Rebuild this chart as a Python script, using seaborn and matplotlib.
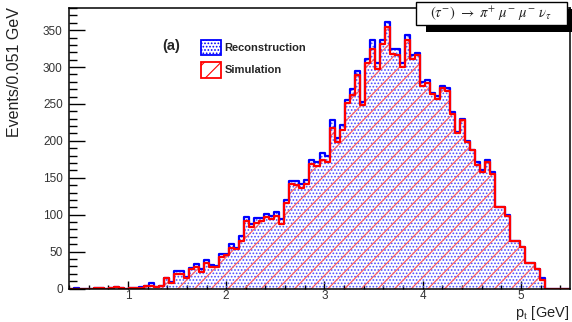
import numpy as np
import pandas as pd
import matplotlib
matplotlib.use("Agg")
import matplotlib.pyplot as plt
from matplotlib.patches import Patch, Rectangle
from matplotlib.ticker import MultipleLocator
import seaborn as sns

# ---- data ----
bin_lo = 0.4
bin_width = 0.051
n_bins = 100

reconstruction = [
    0, 1, 0, 0, 0, 1, 1, 0, 1, 2, 1, 0, 1, 1, 2, 4, 8, 2, 3,
    14, 9, 24, 24, 15, 28, 33, 26, 38, 32, 30, 47,
    47, 60, 55, 71, 97, 87, 96, 95, 101, 98, 103, 94, 120, 146, 146, 141, 147, 174, 171, 184, 180,
    228, 204, 222, 255, 270, 294, 252, 311, 337, 305, 337, 361, 324, 324, 306, 344, 316, 319,
    280, 282, 265, 261, 275, 272, 239, 212, 229,
    200, 188, 172, 160, 174, 158, 111, 110, 100, 65, 64, 56, 34, 34, 26, 14, 0, 0, 0, 0, 0,
]
simulation = [
    0, 0, 0, 0, 0, 1, 1, 0, 1, 2, 1, 0, 1, 1, 1, 4, 4, 2, 3,
    14, 7, 20, 20, 14, 26, 29, 23, 34, 29, 29, 42,
    45, 55, 53, 65, 92, 83, 89, 92, 97, 94, 98, 88, 116, 141, 140, 136, 141, 169, 166, 174, 172,
    217, 198, 215, 251, 262, 289, 249, 305, 325, 297, 331, 354, 318, 316, 300, 337, 311, 316,
    275, 279, 263, 257, 271, 267, 237, 210, 228,
    199, 187, 167, 158, 172, 155, 111, 110, 98, 65, 64, 56, 34, 34, 26, 11, 0, 0, 0, 0, 0,
]
series_labels = ["Reconstruction", "Simulation"]
x_ticks = [1, 2, 3, 4, 5]
y_ticks = [0, 50, 100, 150, 200, 250, 300, 350]

edges = [bin_lo + bin_width * i for i in range(n_bins + 1)]
centers = [0.5 * (edges[i] + edges[i + 1]) for i in range(n_bins)]
df_reco = pd.DataFrame({"pt": centers, "n": reconstruction})
df_sim = pd.DataFrame({"pt": centers, "n": simulation})

sns.set_style("white")
plt.rcParams["font.family"] = ["Liberation Sans", "DejaVu Sans"]
plt.rcParams["hatch.linewidth"] = 0.8
plt.rcParams["mathtext.fontset"] = "stix"

fig = plt.figure(figsize=(5.72, 3.22), dpi=100)
ax = fig.add_axes([69 / 572, 1 - 288.5 / 322, (570 - 69) / 572, (288.5 - 8) / 322])

BLUE = "#0000ff"
RED = "#ff0000"
styles = [
    (df_reco, BLUE, "#4a4aff", "....."),
    (df_sim, RED, "#ff5a5a", "//"),
]

# fills with patterns
for d, lc, hc, hatch in styles:
    sns.histplot(data=d, x="pt", weights="n", bins=edges, element="step", fill=True, ax=ax)
    coll = ax.collections[-1]
    coll.set_alpha(None)
    coll.set_facecolor("none")
    coll.set_edgecolor(hc)
    coll.set_linewidth(0)
    coll.set_hatch(hatch)

# outlines
for d, lc, hc, hatch in styles:
    sns.histplot(data=d, x="pt", weights="n", bins=edges, element="step", fill=False,
                 color=lc, linewidth=1.6, ax=ax)

ax.set_xlim(edges[0], edges[-1])
ax.set_ylim(0, 380)
ax.set_xlabel("")
ax.set_ylabel("")
ax.set_xticks(x_ticks)
ax.set_yticks(y_ticks)
ax.xaxis.set_minor_locator(MultipleLocator(0.2))
ax.yaxis.set_minor_locator(MultipleLocator(10))
ax.tick_params(axis="both", which="both", direction="in", color="black", width=1.0,
               labelcolor="#333333", labelsize=8.5, top=False, right=False,
               left=True, bottom=True)
ax.tick_params(axis="y", which="major", length=11.5, pad=4.5)
ax.tick_params(axis="y", which="minor", length=5.8)
ax.tick_params(axis="x", which="major", length=5.8, pad=1.2)
ax.tick_params(axis="x", which="minor", length=3.0)
for s in ax.spines.values():
    s.set_color("black")
    s.set_linewidth(1.1)
    s.set_visible(True)

# legend
handles = [
    Patch(facecolor="white", edgecolor=BLUE, hatch=".....", linewidth=1.3),
    Patch(facecolor="white", edgecolor=RED, hatch="//", linewidth=1.3),
]
leg = ax.legend(handles, series_labels, loc="upper left",
                bbox_to_anchor=(201 / 572, 1 - 39.5 / 322), bbox_transform=fig.transFigure,
                frameon=False, borderpad=0, borderaxespad=0,
                prop={"size": 8, "weight": "bold"},
                handlelength=1.8, handleheight=1.8, labelspacing=0.6, handletextpad=0.3)

fig.text(162 / 572, 1 - 46 / 322, "(a)", fontsize=10.5, fontweight="bold",
         ha="left", va="center")

# axis labels
fig.text(15 / 572, 1 - 7 / 322, "Events/0.051 GeV", rotation=90, ha="center", va="top",
         fontsize=11.5, color="#222222")
fig.text(569 / 572, 1 - 316.5 / 322, r"p$_{\rm t}$ [GeV]", ha="right", va="baseline",
         fontsize=10.5, color="#222222")

# title box with shadow
fig.add_artist(Rectangle((426 / 572, 1 - 32 / 322), 151 / 572, 23 / 322,
                         transform=fig.transFigure, facecolor="black", edgecolor="none",
                         zorder=5))
fig.add_artist(Rectangle((416 / 572, 1 - 25 / 322), 151 / 572, 23 / 322,
                         transform=fig.transFigure, facecolor="white", edgecolor="black",
                         linewidth=1.0, zorder=6))
fig.text(491 / 572, 1 - 14 / 322,
         r"$(\tau^{-})\ \rightarrow\ \pi^{+}\ \mu^{-}\ \mu^{-}\ \nu_{\tau}$",
         ha="center", va="center", fontsize=10.5, zorder=7)

fig.savefig("out.png", dpi=100)
